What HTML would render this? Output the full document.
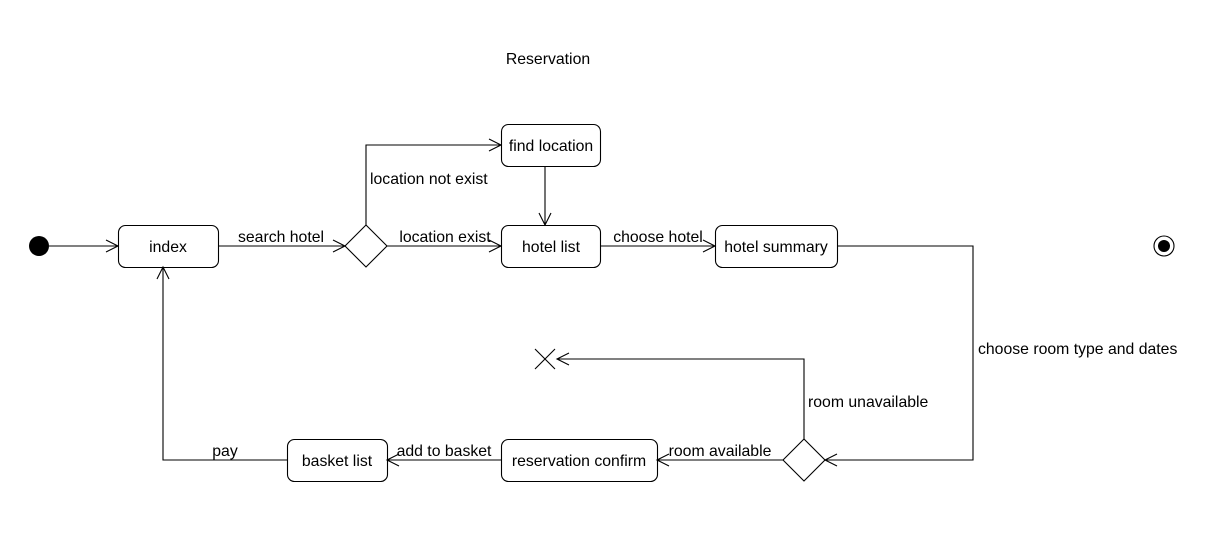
<!DOCTYPE html>
<html><head><meta charset="utf-8"><style>
html,body{margin:0;padding:0;background:#fff;}
svg{display:block;}
text{font-family:"Liberation Sans",sans-serif;font-size:15.8px;fill:#000;}
</style></head><body>
<svg width="1206" height="540" viewBox="0 0 1206 540" xmlns="http://www.w3.org/2000/svg">
<g fill="none" stroke="#000" stroke-width="1.1">
<rect x="118.5" y="225.5" width="100" height="42" rx="7"/>
<rect x="501.5" y="225.5" width="99" height="42" rx="7"/>
<rect x="501.5" y="124.5" width="99" height="42" rx="7"/>
<rect x="715.5" y="225.5" width="122" height="42" rx="7"/>
<rect x="501.5" y="439.5" width="156" height="42" rx="7"/>
<rect x="287.5" y="439.5" width="100" height="42" rx="7"/>
<polygon points="366,225 387,246 366,267 345,246"/>
<polygon points="804,439 825,460 804,481 783,460"/>
<path d="M49,246H118"/>
<path d="M218,246H345"/>
<path d="M387,246H501"/>
<path d="M366,225V145H501"/>
<path d="M545,166V225"/>
<path d="M600,246H715"/>
<path d="M837,246H973V460H825"/>
<path d="M804,439V359H557"/>
<path d="M783,460H657"/>
<path d="M501,460H387"/>
<path d="M287,460H163V267"/>
<path d="M106,240L118,246L106,252"/>
<path d="M333,240L345,246L333,252"/>
<path d="M489,240L501,246L489,252"/>
<path d="M489,139L501,145L489,151"/>
<path d="M539,213L545,225L551,213"/>
<path d="M703,240L715,246L703,252"/>
<path d="M837,454L825,460L837,466"/>
<path d="M569,353L557,359L569,365"/>
<path d="M669,454L657,460L669,466"/>
<path d="M399,454L387,460L399,466"/>
<path d="M157,279L163,267L169,279"/>
<path d="M535,349L555,369M555,349L535,369"/>
<circle cx="1164" cy="246" r="10"/>
</g>
<circle cx="39" cy="246" r="10" fill="#000"/>
<circle cx="1164" cy="246" r="6" fill="#000"/>
<g text-anchor="middle">
<text x="548" y="64">Reservation</text>
<text x="168" y="252">index</text>
<text x="551" y="252">hotel list</text>
<text x="551" y="151">find location</text>
<text x="776" y="252">hotel summary</text>
<text x="579" y="466">reservation confirm</text>
<text x="337" y="466">basket list</text>
<text x="281" y="242">search hotel</text>
<text x="445" y="242">location exist</text>
<text x="658" y="242">choose hotel</text>
<text x="720" y="456">room available</text>
<text x="444" y="456">add to basket</text>
<text x="225" y="456">pay</text>
</g>
<text x="370" y="184">location not exist</text>
<text x="978" y="354">choose room type and dates</text>
<text x="808" y="407">room unavailable</text>
</svg>
</body></html>
